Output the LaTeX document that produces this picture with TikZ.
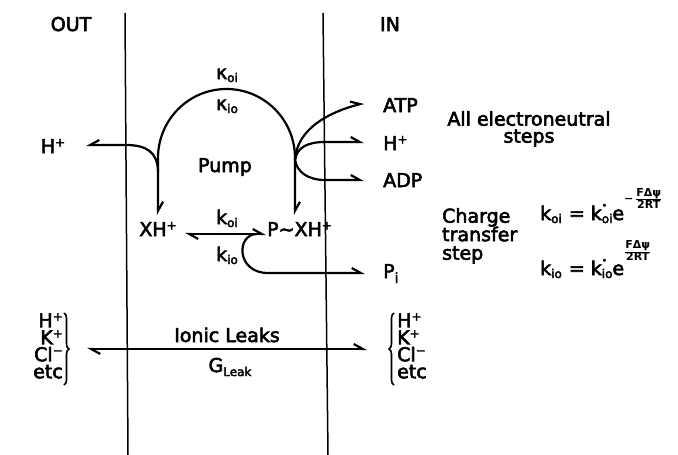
\documentclass[tikz,border=0pt]{standalone}
\usepackage{fontspec}
\setmainfont{DejaVu Sans}[UprightFeatures={FakeBold=3}]
\usetikzlibrary{arrows.meta,decorations.pathreplacing}
\newcommand{\sps}[1]{\raisebox{6.5pt}{\fontsize{12}{12}\selectfont #1}}
\newcommand{\sbs}[1]{\raisebox{-3pt}{\fontsize{12}{12}\selectfont #1}}
\newcommand{\kdt}[1]{k\rlap{\raisebox{0.6em}{\fontsize{9}{9}\selectfont •}}\sbs{#1}}
\lineskiplimit=-30pt
\lineskip=0pt
\begin{document}
\begin{tikzpicture}[x=1pt,y=-1pt,
  every node/.style={inner sep=0pt,font=\fontsize{19}{22}\selectfont},
  txt/.style={anchor=base},
  txtw/.style={anchor=base west},
  txte/.style={anchor=base east},
  stack/.style={font=\fontsize{19}{#1}\selectfont},
  membrane/.style={line width=1.5pt},
  flow/.style={line width=2.2pt,-{Straight Barb[harpoon,length=9pt,width=10pt]}},
  flowrev/.style={line width=2.2pt,-{Straight Barb[harpoon,swap,length=9pt,width=10pt]}},
  dflow/.style={line width=2.2pt,{Straight Barb[harpoon,length=9pt,width=10pt]}-{Straight Barb[harpoon,length=9pt,width=10pt]}},
  brc/.style={line width=1.6pt,decorate,decoration={brace,amplitude=5pt}}]
\fill[white] (0,0) rectangle (678,455);
\useasboundingbox (0,0) rectangle (678,455);

% membrane
\draw[membrane] (125,13) -- (128,455);
\draw[membrane] (323,13) -- (328,455);

% labels
\node[txt] (out) at (71,31) {OUT};
\node[txt] (in) at (390,31) {IN};
\node[txt] (kappaoi) at (227,79) {κ\sbs{oi}};
\node[txt] (kappaio) at (227,110) {κ\sbs{io}};
\node[txt] (pump) at (225,172) {Pump};
\node[txt] (hout) at (53,153) {H\sps{+}};
\node[txtw] (atp) at (383,112) {ATP};
\node[txtw] (hin) at (383,150) {H\sps{+}};
\node[txtw] (adp) at (383,187) {ADP};
\node[stack=17pt,align=center,anchor=north] (elec) at (529,111) {All electroneutral\\steps};
\node[txt] (xh) at (158,236) {XH\sps{+}};
\node[txtw] (pxh) at (267,236) {P∼XH\sps{+}};
\node[txt] (koi) at (227,224) {k\sbs{oi}};
\node[txt] (kio) at (227,261) {k\sbs{io}};
\node[txtw] (pi) at (383,278) {P\raisebox{-5pt}{\fontsize{14}{14}\selectfont i}};
\node[stack=18.5pt,align=left,anchor=north west] (chg) at (442,208) {Charge\\transfer\\step};
\node[txtw] (eq1) at (540,220) {k\sbs{oi}\hspace{7pt}=\hspace{6pt}\kdt{oi}e\raisebox{18pt}{\fontsize{11}{11}\selectfont\bfseries −\,$\frac{\mbox{FΔψ}}{\mbox{2RT}}$}};
\node[txtw] (eq2) at (540,275) {k\sbs{io}\hspace{7pt}=\hspace{6pt}\kdt{io}e\raisebox{20.5pt}{\fontsize{11}{11}\selectfont\bfseries $\frac{\mbox{FΔψ}}{\mbox{2RT}}$}};
\node[txt] (leaks) at (227,342) {Ionic Leaks};
\node[txt] (gleak) at (230,372) {G\raisebox{-4pt}{\fontsize{12}{12}\selectfont Leak}};

% ion groups
\node[stack=17pt,align=right,anchor=north east] (lions) at (63,313) {H\sps{+}\\K\sps{+}\\Cl\sps{−}\\etc\hspace{4pt}};
\node[stack=17pt,align=left,anchor=north west] (rions) at (397,313) {H\sps{+}\\K\sps{+}\\Cl\sps{−}\\etc};
\draw[brc] (64,313) -- (64,385);
\draw[brc] (394,385) -- (394,313);

% connector end points
\coordinate (legL) at (158,215);
\coordinate (legR) at (295,215);
\coordinate (jL) at (158,172);
\coordinate (houtTip) at (86,145);
\coordinate (jR) at (295,160);
\coordinate (atpTip) at (364,103);
\coordinate (hinTip) at (364,142);
\coordinate (adpTip) at (364,180);
\coordinate (exL) at (185,234);
\coordinate (exR) at (266,234);
\coordinate (piStart) at (257,234);
\coordinate (piTip) at (365,273);
\coordinate (lkL) at (87,349);
\coordinate (lkR) at (367,349);

% pump arch
\draw[dflow] (legL) -- (158,158) arc[start angle=180, delta angle=180, x radius=68.5, y radius=69] -- (legR);
% H+ out
\draw[flowrev] (jL) .. controls (158,152) and (146,145) .. (126,145) -- (houtTip);
% inside products
\draw[flow] (jR) .. controls (297,128) and (330,112) .. (atpTip);
\draw[flow] (jR) .. controls (297,147) and (308,142) .. (325,142) -- (hinTip);
\draw[flow] (jR) .. controls (297,172) and (308,180) .. (325,180) -- (adpTip);
% charge transfer
\draw[dflow] (exL) -- (exR);
\draw[flow] (piStart) .. controls (236,234) and (236,273) .. (268,273) -- (piTip);
% leaks
\draw[dflow] (lkL) -- (lkR);
\end{tikzpicture}
\end{document}
